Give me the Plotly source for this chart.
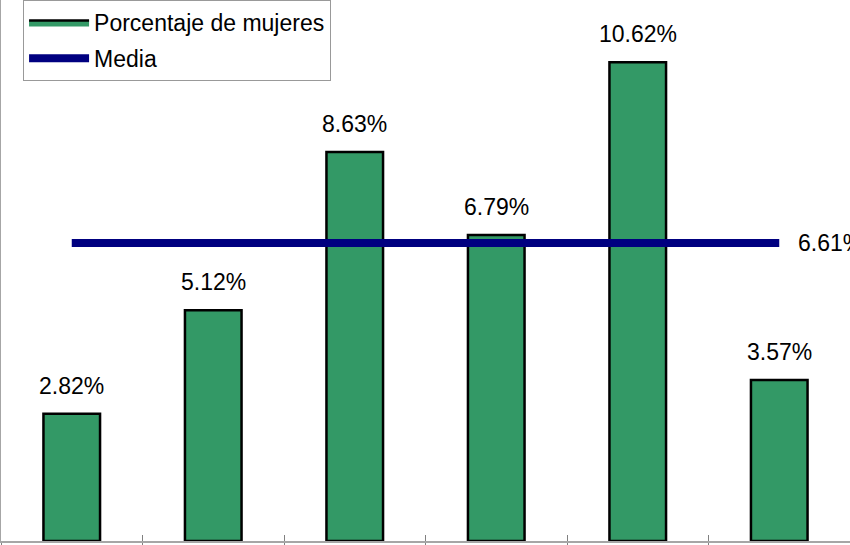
import plotly.graph_objects as go

categorias = ["G1", "G2", "G3", "G4", "G5", "G6"]
porcentaje_mujeres = [2.82, 5.12, 8.63, 6.79, 10.62, 3.57]
media = 6.61
etiquetas = ["2.82%", "5.12%", "8.63%", "6.79%", "10.62%", "3.57%"]

fuente = "Liberation Sans, Arial, sans-serif"
verde = "#339966"

fig = go.Figure()
fig.add_trace(go.Bar(
    x=categorias, y=porcentaje_mujeres, name="Porcentaje de mujeres",
    marker=dict(color=verde, line=dict(color="black", width=2.5)),
    width=0.4, showlegend=False,
))
# entrada de leyenda con rectangulo ancho
fig.add_trace(go.Scatter(
    x=[None], y=[None], name="Porcentaje de mujeres", mode="lines",
    fill="toself", fillcolor=verde, line=dict(color="black", width=2.5),
    legendgroup="a",
))
fig.add_trace(go.Scatter(
    x=categorias, y=[media] * len(categorias), name="Media",
    mode="lines", line=dict(color="#000080", width=8),
    xaxis="x2", legendgroup="b",
))

for c, v, t in zip(categorias, porcentaje_mujeres, etiquetas):
    fig.add_annotation(x=c, y=v, text=t, showarrow=False, yanchor="bottom",
                       yshift=13, font=dict(size=23, color="black"))
fig.add_annotation(x=categorias[-1], y=media, text="6.61%", showarrow=False,
                   xanchor="left", xshift=17, font=dict(size=23, color="black"))

fig.update_layout(
    width=850, height=545,
    margin=dict(l=1, r=0, t=0, b=4),
    paper_bgcolor="white", plot_bgcolor="white",
    font=dict(family=fuente, size=23, color="black"),
    showlegend=True,
    legend=dict(x=0.026, y=1.0, xanchor="left", yanchor="top",
                bordercolor="#999999", borderwidth=1, bgcolor="white",
                font=dict(size=23), itemwidth=60, traceorder="grouped",
                tracegroupgap=3),
    xaxis=dict(type="category", range=[-0.5, 5.5], showline=True,
               linecolor="#a6a6a6", linewidth=1.5,
               ticks="outside", ticklen=4, tickcolor="#808080", tickson="boundaries",
               showticklabels=False, showgrid=False, zeroline=False),
    xaxis2=dict(type="category", matches="x", overlaying="x", showline=False,
                ticks="inside", ticklen=6, tickcolor="#808080", tickson="boundaries",
                showticklabels=False, showgrid=False, zeroline=False),
    yaxis=dict(range=[0, 12], showline=True, linecolor="#a6a6a6", linewidth=1.5,
               ticks="", showticklabels=False, showgrid=False, zeroline=False),
)

fig.write_html("out.html", config={"displayModeBar": False},
               post_script="document.body.style.margin='0px';"
                           "document.body.style.overflow='hidden';")
